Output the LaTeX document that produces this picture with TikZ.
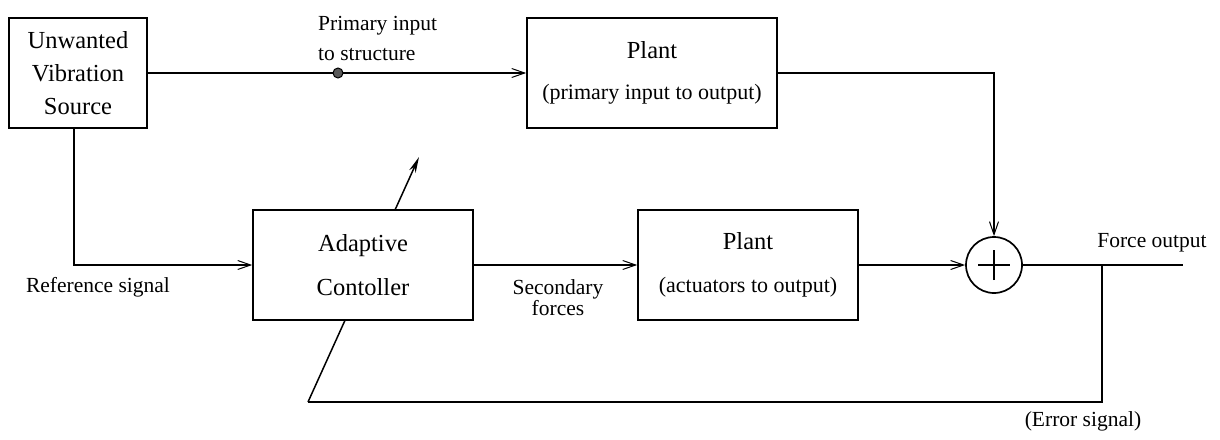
\documentclass[tikz,border=0pt]{standalone}
\usepackage{fontspec}
\setmainfont{Liberation Serif}
\usetikzlibrary{arrows.meta}
\begin{document}
\begin{tikzpicture}[x=1pt,y=-1pt,
  box/.style={draw, line width=1.6pt, fill=white, minimum width=#1, minimum height=110pt, inner sep=0pt, align=center},
  lbl/.style={font=\fontsize{21.5}{21}\selectfont, inner sep=0pt},
  conn/.style={line width=1.1pt},
  arr/.style={conn, -{Straight Barb[length=13pt,width=9pt,line width=1pt]}},
  adapt/.style={line width=1.5pt, -{Stealth[length=16pt,width=7pt]}},
  sumst/.style={draw, circle, line width=1.7pt, fill=white, minimum size=56pt, inner sep=0pt,
    path picture={\draw[line width=1.1pt] ([xshift=-16pt]path picture bounding box.center) -- ([xshift=16pt]path picture bounding box.center);
                  \draw[line width=1.1pt] ([yshift=-15pt]path picture bounding box.center) -- ([yshift=15pt]path picture bounding box.center);}},
  dotst/.style={draw, circle, fill=black!65, line width=1pt, minimum size=10pt, inner sep=0pt}
]
\fill[white] (0,0) rectangle (1220,439);
\useasboundingbox (0,0) rectangle (1220,439);

% free coordinates of the error loop and adaptation arrow
\coordinate (out) at (1183,265);
\coordinate (br) at (1102,265);
\coordinate (bl) at (308,402);
\coordinate (tip) at (419,157);

% adaptation arrow (drawn under the controller box)
\draw[conn] (br) |- (bl);
\draw[adapt] (bl) -- (tip);

% boxes
\node[box=138pt, font=\fontsize{24.5}{33}\selectfont] (src) at (78,73) {Unwanted\\Vibration\\Source};
\node[box=250pt, font=\fontsize{24.5}{41}\selectfont] (plant1) at (652,73)
  {Plant\\{\fontsize{22}{41}\selectfont(primary input to output)}};
\node[box=220pt, font=\fontsize{24.5}{44}\selectfont] (ctrl) at (363,265) {Adaptive\\Contoller};
\node[box=220pt, font=\fontsize{24.5}{43}\selectfont] (plant2) at (748,265)
  {Plant\\{\fontsize{22}{43}\selectfont(actuators to output)}};
\node[sumst] (sum) at (994,265) {};

% connectors
\draw[arr] (src.east) -- (plant1.west);
\node[dotst] (pi) at (338,73) {};
\draw[arr] ([xshift=-4pt]src.south) |- (ctrl.west);
\draw[arr] (plant1.east) -| (sum.north);
\draw[arr] (ctrl.east) -- (plant2.west);
\draw[arr] (plant2.east) -- (sum.west);
\draw[conn] (sum.east) -- (out);

% labels
\node[lbl, font=\fontsize{21.5}{30}\selectfont, anchor=west, align=left] (lpi) at (318,38) {Primary input\\to structure};
\node[lbl] (lref) at (98,287) {Reference signal};
\node[lbl, align=center] (lsec) at (558,298) {Secondary\\forces};
\node[lbl] (lfo) at (1152,243) {Force output};
\node[lbl] (lerr) at (1083,421) {(Error signal)};
\end{tikzpicture}
\end{document}
